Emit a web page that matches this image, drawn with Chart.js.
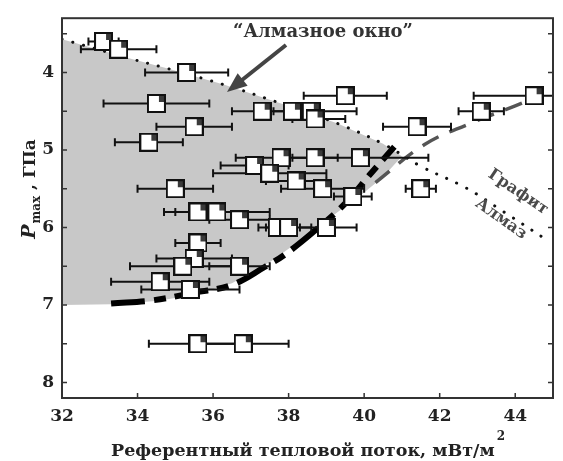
<!DOCTYPE html>
<html>
<head>
<meta charset="utf-8">
<script src="https://cdn.jsdelivr.net/npm/chart.js@4.4.1/dist/chart.umd.min.js"></script>
<style>
  html, body { margin: 0; padding: 0; background: #fff; }
</style>
</head>
<body>
<canvas id="chart" width="563" height="461"></canvas>
<script>
// Измерения: референтный тепловой поток (мВт/м2) и Pmax (ГПа)
const fluxX    = [33.1, 33.5, 35.3, 34.5, 35.5, 34.3, 39.5, 37.3, 38.1, 38.6, 38.7, 37.8, 38.7, 39.9, 37.1, 37.5, 38.2, 38.9, 39.7,
                  41.5, 41.4, 43.1, 44.5, 35.0, 35.6, 36.1, 36.7, 37.7, 38.0, 39.0, 35.6, 35.5, 35.2, 36.7, 34.6, 35.4, 35.6, 36.8];
const pmaxY    = [3.6, 3.7, 4.0, 4.4, 4.7, 4.9, 4.3, 4.5, 4.5, 4.5, 4.6, 5.1, 5.1, 5.1, 5.2, 5.3, 5.4, 5.5, 5.6,
                  5.5, 4.7, 4.5, 4.3, 5.5, 5.8, 5.8, 5.9, 6.0, 6.0, 6.0, 6.2, 6.4, 6.5, 6.5, 6.7, 6.8, 7.5, 7.5];
const errLeft  = [0.4, 1.0, 1.1, 1.4, 1.0, 0.9, 1.1, 0.8, 0.5, 0.6, 0.6, 1.2, 0.6, 1.0, 0.9, 1.5, 0.8, 1.1, 0.5,
                  0.4, 0.9, 0.6, 1.6, 1.0, 0.6, 1.4, 0.8, 0.5, 0.6, 0.7, 0.6, 1.0, 1.4, 0.8, 1.3, 1.3, 1.3, 1.2];
const errRight = [0.4, 1.0, 1.1, 1.4, 1.0, 0.9, 1.1, 0.6, 0.5, 1.2, 0.8, 1.0, 0.6, 1.8, 0.9, 1.5, 0.8, 1.1, 0.5,
                  0.4, 0.9, 0.6, 1.6, 1.0, 0.6, 1.4, 0.8, 0.5, 0.6, 0.8, 0.6, 1.0, 1.4, 0.8, 1.3, 1.3, 1.3, 1.2];

// граница графит / алмаз (пунктир)
const gdLineX = [32.0, 33.8, 34.8, 36.3, 37.8, 39.3, 40.5, 41.5, 42.7, 43.7, 44.8];
const gdLineY = [3.57, 3.82, 3.95, 4.16, 4.40, 4.66, 4.92, 5.21, 5.49, 5.80, 6.15];

// нижняя граница "алмазного окна"
const windowLowX = [32.0, 33.3, 34.5, 35.5, 36.5, 37.5, 38.5, 39.3, 40.0, 40.5, 41.0];
const windowLowY = [7.00, 6.99, 6.95, 6.87, 6.72, 6.45, 6.10, 5.80, 5.55, 5.35, 5.08];

// тренд: чёрная и серая части
const trendBlackX = [33.3, 34.4, 35.5, 36.5, 37.4, 37.9, 38.7, 39.5, 40.2, 40.8];
const trendBlackY = [6.98, 6.94, 6.84, 6.74, 6.50, 6.35, 6.04, 5.69, 5.29, 4.96];
const trendGrayX  = [40.3, 41.6, 42.8, 44.0, 44.5];
const trendGrayY  = [5.42, 4.93, 4.66, 4.43, 4.33];

const xTicks = [32, 34, 36, 38, 40, 42, 44];
const yTicks = [4, 5, 6, 7, 8];
const yMinorTicks = [3.5, 4, 4.5, 5, 5.5, 6, 6.5, 7, 7.5, 8];

const pts = (xs, ys) => xs.map((v, i) => ({ x: v, y: ys[i] }));

// область окна: вдоль пунктира до точки стыка, затем назад по нижней границе
const windowShape = pts(gdLineX, gdLineY).filter(p => p.x < 41)
  .concat(pts(windowLowX, windowLowY).reverse());

// маркер: белый квадрат с тёмным уголком
function makeMarker() {
  const c = document.createElement('canvas');
  c.width = 19; c.height = 19;
  const g = c.getContext('2d');
  g.fillStyle = '#fff';
  g.fillRect(1, 1, 17, 17);
  g.fillStyle = '#3a3a3a';
  g.fillRect(12, 2, 5, 6);
  g.strokeStyle = '#111';
  g.lineWidth = 2;
  g.strokeRect(1, 1, 17, 17);
  return c;
}

const FONT = "'DejaVu Serif', serif";
Chart.defaults.font.family = FONT;
Chart.defaults.font.weight = 'bold';
Chart.defaults.font.size = 17;
Chart.defaults.color = '#222';

const POINTS = 4;

const decor = {
  id: 'decor',
  beforeDatasetDraw(chart, args) {
    if (args.index !== POINTS) return;
    const { ctx, chartArea: a, scales: { x, y } } = chart;
    ctx.save();
    ctx.beginPath();
    ctx.rect(a.left, a.top, a.right - a.left, a.bottom - a.top);
    ctx.clip();
    ctx.strokeStyle = '#111';
    ctx.lineWidth = 2;
    fluxX.forEach((v, i) => {
      const py = y.getPixelForValue(pmaxY[i]);
      const x0 = x.getPixelForValue(v - errLeft[i]);
      const x1 = x.getPixelForValue(v + errRight[i]);
      ctx.beginPath();
      ctx.moveTo(x0, py); ctx.lineTo(x1, py);
      ctx.moveTo(x0, py - 4); ctx.lineTo(x0, py + 4);
      ctx.moveTo(x1, py - 4); ctx.lineTo(x1, py + 4);
      ctx.stroke();
    });
    ctx.restore();
  },
  afterDraw(chart) {
    const { ctx, chartArea: a, scales: { x, y } } = chart;
    ctx.save();

    // рамка и внутренние риски
    ctx.strokeStyle = '#333';
    ctx.lineWidth = 2;
    ctx.strokeRect(a.left, a.top, a.right - a.left, a.bottom - a.top);
    ctx.lineWidth = 1.5;
    ctx.beginPath();
    yMinorTicks.forEach(v => {
      const py = y.getPixelForValue(v);
      ctx.moveTo(a.left, py); ctx.lineTo(a.left + 5, py);
      ctx.moveTo(a.right, py); ctx.lineTo(a.right - 5, py);
    });
    xTicks.forEach(v => {
      const px = x.getPixelForValue(v);
      ctx.moveTo(px, a.bottom); ctx.lineTo(px, a.bottom - 5);
    });
    ctx.stroke();

    // стрелка
    const ax0 = 286, ay0 = 45, ax1 = 227, ay1 = 92;
    const ang = Math.atan2(ay1 - ay0, ax1 - ax0);
    ctx.strokeStyle = '#444';
    ctx.fillStyle = '#444';
    ctx.lineWidth = 4;
    ctx.beginPath();
    ctx.moveTo(ax0, ay0);
    ctx.lineTo(ax1 - 14 * Math.cos(ang), ay1 - 14 * Math.sin(ang));
    ctx.stroke();
    ctx.beginPath();
    ctx.moveTo(ax1, ay1);
    ctx.lineTo(ax1 - 20 * Math.cos(ang) + 8 * Math.sin(ang), ay1 - 20 * Math.sin(ang) - 8 * Math.cos(ang));
    ctx.lineTo(ax1 - 20 * Math.cos(ang) - 8 * Math.sin(ang), ay1 - 20 * Math.sin(ang) + 8 * Math.cos(ang));
    ctx.closePath();
    ctx.fill();

    // подписи на поле
    ctx.fillStyle = '#333';
    ctx.font = `bold 18px ${FONT}`;
    ctx.textAlign = 'center';
    ctx.textBaseline = 'alphabetic';
    ctx.fillText('\u201CАлмазное окно\u201D', 323, 37);

    ctx.fillStyle = '#4a4a4a';
    ctx.font = `bold 16px ${FONT}`;
    ctx.textBaseline = 'middle';
    ctx.save();
    ctx.translate(518, 192);
    ctx.rotate(34 * Math.PI / 180);
    ctx.fillText('Графит', 0, 0);
    ctx.restore();
    ctx.save();
    ctx.translate(501, 219);
    ctx.rotate(35 * Math.PI / 180);
    ctx.fillText('Алмаз', 0, 0);
    ctx.restore();

    // подпись оси X
    ctx.fillStyle = '#222';
    ctx.textBaseline = 'alphabetic';
    ctx.textAlign = 'left';
    const xt = 'Референтный тепловой поток, мВт/м';
    ctx.font = `bold 17.5px ${FONT}`;
    const xw = ctx.measureText(xt).width;
    ctx.font = `bold 12px ${FONT}`;
    const sw = ctx.measureText('2').width;
    let sx = 308 - (xw + sw + 2) / 2;
    ctx.font = `bold 17.5px ${FONT}`;
    ctx.fillText(xt, sx, 456);
    ctx.font = `bold 12px ${FONT}`;
    ctx.fillText('2', sx + xw + 2, 440);

    // подпись оси Y
    ctx.save();
    ctx.translate(35, 189);
    ctx.rotate(-Math.PI / 2);
    ctx.font = `italic bold 19px ${FONT}`;
    const pw = ctx.measureText('P').width;
    ctx.font = `bold 12px ${FONT}`;
    const mw = ctx.measureText('max').width;
    ctx.font = `bold 17px ${FONT}`;
    const rest = ' , ГПа';
    const rw = ctx.measureText(rest).width;
    let tx = -(pw + mw + rw + 1) / 2;
    ctx.font = `italic bold 19px ${FONT}`;
    ctx.fillText('P', tx, 0);
    tx += pw + 1;
    ctx.font = `bold 12px ${FONT}`;
    ctx.fillText('max', tx, 5);
    tx += mw;
    ctx.font = `bold 17px ${FONT}`;
    ctx.fillText(rest, tx, 0);
    ctx.restore();

    ctx.restore();
  }
};

const chart = new Chart(document.getElementById('chart'), {
  type: 'scatter',
  data: {
    datasets: [
      {
        label: 'окно',
        data: windowShape,
        showLine: true,
        fill: 'shape',
        backgroundColor: '#c8c8c8',
        borderWidth: 0,
        pointRadius: 0,
        tension: 0,
        order: 5
      },
      {
        label: 'Графит/Алмаз',
        data: pts(gdLineX, gdLineY),
        showLine: true,
        borderColor: '#111',
        borderWidth: 3,
        borderDash: [0.1, 11],
        borderCapStyle: 'round',
        pointRadius: 0,
        tension: 0.4,
        order: 4
      },
      {
        label: 'тренд (серый)',
        data: pts(trendGrayX, trendGrayY),
        showLine: true,
        borderColor: '#555',
        borderWidth: 3.5,
        borderDash: [18, 12],
        pointRadius: 0,
        tension: 0.4,
        order: 3
      },
      {
        label: 'тренд',
        data: pts(trendBlackX, trendBlackY),
        showLine: true,
        borderColor: '#000',
        borderWidth: 6,
        borderDash: [34, 9, 12, 9],
        pointRadius: 0,
        tension: 0.4,
        order: 2
      },
      {
        label: 'Pmax',
        data: pts(fluxX, pmaxY),
        pointStyle: makeMarker(),
        pointRadius: 9,
        order: 1
      }
    ]
  },
  options: {
    responsive: false,
    animation: false,
    devicePixelRatio: 1,
    layout: { padding: { left: 0, right: 4, top: 11, bottom: 0 } },
    plugins: { legend: { display: false }, tooltip: { enabled: false } },
    scales: {
      x: {
        type: 'linear',
        min: 32, max: 45,
        afterBuildTicks: s => { s.ticks = xTicks.map(v => ({ value: v })); },
        afterFit: s => { s.height = 63; },
        grid: { display: false, drawTicks: false },
        border: { display: false },
        ticks: { padding: 8, color: '#222', maxRotation: 0 }
      },
      y: {
        type: 'linear',
        reverse: true,
        min: 3.3, max: 8.2,
        afterBuildTicks: s => { s.ticks = yTicks.map(v => ({ value: v })); },
        afterFit: s => { s.width = 62; },
        grid: { display: false, drawTicks: false },
        border: { display: false },
        ticks: { padding: 8, color: '#222' }
      }
    }
  },
  plugins: [decor]
});
</script>
</body>
</html>
